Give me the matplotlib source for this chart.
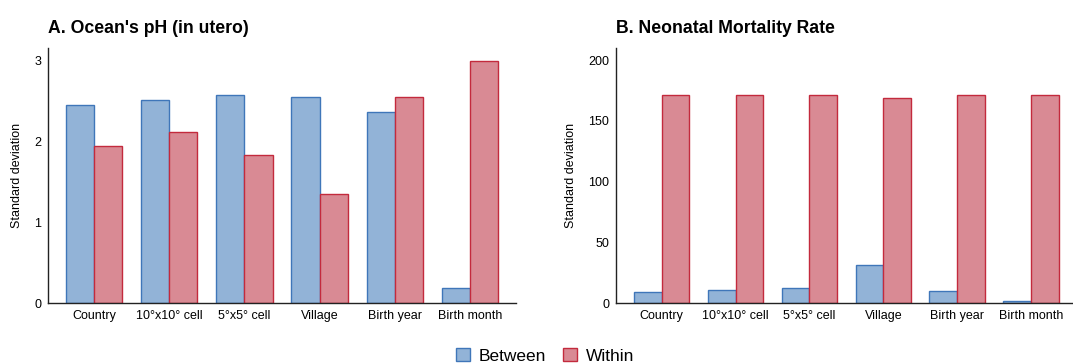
import matplotlib
matplotlib.use("Agg")
from matplotlib import pyplot as plt
from matplotlib.patches import Patch
import numpy as np

plt.rcParams["font.family"] = ["Liberation Sans", "DejaVu Sans"]

categories = ["Country", "10°x10° cell", "5°x5° cell", "Village", "Birth year", "Birth month"]

# Ocean's pH (in utero)
ph_between = [2.45, 2.51, 2.57, 2.55, 2.36, 0.18]
ph_within = [1.94, 2.11, 1.83, 1.35, 2.54, 2.99]

# Neonatal mortality rate
nmr_between = [8.8, 10.4, 12.3, 31.6, 9.6, 1.4]
nmr_within = [171.0, 171.0, 171.0, 168.7, 171.0, 171.5]

blue_fill, blue_edge = "#92b3d7", "#3f76b9"
red_fill, red_edge = "#d98a94", "#c32a3d"

fig = plt.figure(figsize=(10.73, 3.63), dpi=100)
ax1 = fig.add_axes([48 / 1073, 1 - 303 / 363, 468 / 1073, 255 / 363])
ax2 = fig.add_axes([616 / 1073, 1 - 303 / 363, 457 / 1073, 255 / 363])

x = np.arange(len(categories))
w = 0.375


def draw(ax, between, within, ylim, yticks, title):
    ax.bar(x - w / 2, between, w, color=blue_fill, edgecolor=blue_edge, linewidth=1)
    ax.bar(x + w / 2, within, w, color=red_fill, edgecolor=red_edge, linewidth=1)
    ax.set_ylim(*ylim)
    ax.set_yticks(yticks)
    ax.set_xticks(x)
    ax.set_xticklabels(categories)
    ax.tick_params(axis="both", length=0, labelsize=9, pad=5)
    ax.set_ylabel("Standard deviation", fontsize=9, labelpad=8)
    for s in ["top", "right"]:
        ax.spines[s].set_visible(False)
    for s in ["left", "bottom"]:
        ax.spines[s].set_color("#222222")
        ax.spines[s].set_linewidth(1)
    ax.set_title(title, loc="left", fontsize=12.7, fontweight="bold", pad=11)


draw(ax1, ph_between, ph_within, (0, 3.15), [0, 1, 2, 3], "A. Ocean's pH (in utero)")
ax1.set_xlim(-0.61, 5.61)
draw(ax2, nmr_between, nmr_within, (0, 210), [0, 50, 100, 150, 200], "B. Neonatal Mortality Rate")
ax2.set_xlim(-0.62, 5.57)

handles = [Patch(facecolor=blue_fill, edgecolor=blue_edge, label="Between"),
           Patch(facecolor=red_fill, edgecolor=red_edge, label="Within")]
fig.legend(handles=handles, loc="lower center", bbox_to_anchor=(0.508, -0.045), ncol=2,
           frameon=False, fontsize=12.5, handlelength=0.8, handleheight=0.8,
           handletextpad=0.5, columnspacing=1.0)

fig.savefig("out.png", dpi=100)
